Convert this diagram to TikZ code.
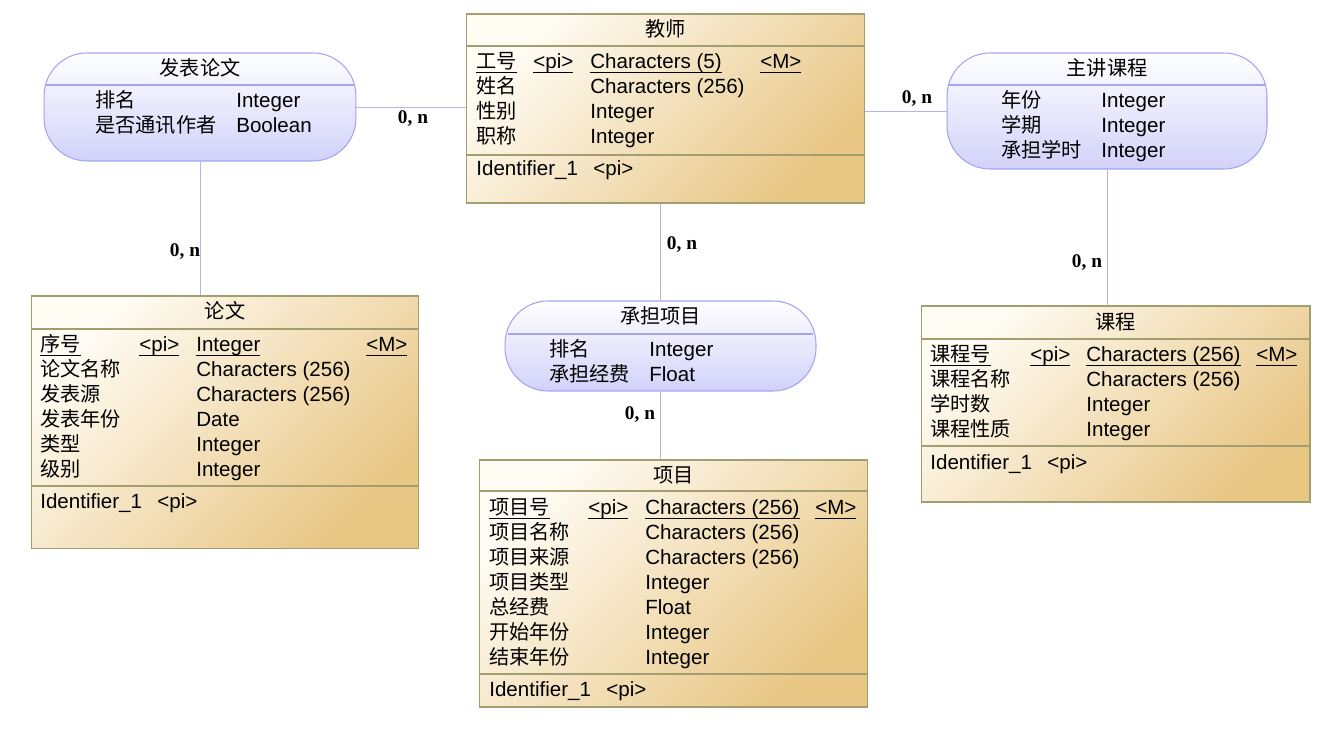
\documentclass[tikz,border=0pt]{standalone}
\usepackage{fontspec}
\setmainfont{Liberation Sans}
\newfontfamily\cjk{Noto Sans CJK SC}
\newfontfamily\lbl{Liberation Serif}
\usetikzlibrary{positioning,calc}
\definecolor{entlight}{HTML}{FFFCF4}
\definecolor{entdark}{HTML}{E8C684}
\definecolor{entline}{HTML}{A39E70}
\definecolor{relfill}{HTML}{D2D2FA}
\definecolor{relline}{HTML}{A4A4F0}
\definecolor{linkcol}{HTML}{B4B4F2}
\newcommand{\keyul}[1]{\setbox0=\hbox{#1}\rlap{\rule[-2.5pt]{\wd0}{0.8pt}}\box0}

\begin{document}
\begin{tikzpicture}[
  x=0.02cm, y=-0.02cm,
  ent/.style={draw=entline, line width=0.6pt, top color=entlight, bottom color=entdark, shading angle=45, inner sep=0},
  rel/.style={draw=relline, line width=0.6pt, rounded corners=0.86cm, top color=white, bottom color=relfill, inner sep=0},
  entsep/.style={draw=entline, line width=0.6pt},
  relsep/.style={draw=relline, line width=0.6pt},
  link/.style={draw=linkcol, line width=0.5pt},
  card/.style={font=\lbl\bfseries\fontsize{11}{13}\selectfont, inner sep=0},
  en/.style={anchor=base west, inner sep=0, font=\fontsize{11.7}{14}\selectfont},
  cn/.style={anchor=base west, inner sep=0, font=\cjk\fontsize{11.5}{14}\selectfont},
  ttl/.style={anchor=base, inner sep=0, font=\cjk\fontsize{11.5}{14}\selectfont}
]
\useasboundingbox[fill=white] (0,0) rectangle (1336,742);

% Boxes
\node[ent, minimum width=7.98cm, minimum height=3.78cm] (js) at (665.5,108.5) {};
\node[ent, minimum width=7.76cm, minimum height=5.06cm] (lw) at (225,422.5) {};
\node[ent, minimum width=7.78cm, minimum height=4.94cm] (xm) at (673.5,583.5) {};
\node[ent, minimum width=7.78cm, minimum height=3.92cm] (kc) at (1115.5,404) {};
\node[rel, minimum width=6.24cm, minimum height=2.16cm] (fblw) at (200,107) {};
\node[rel, minimum width=6.40cm, minimum height=2.32cm] (zjkc) at (1107,111) {};
\node[rel, minimum width=6.22cm, minimum height=1.80cm] (cdxm) at (660.5,346) {};

% Compartment lines
\draw[entsep] (js.west |- 0,46) -- (js.east |- 0,46);
\draw[entsep] (js.west |- 0,155) -- (js.east |- 0,155);
\draw[entsep] (lw.west |- 0,329) -- (lw.east |- 0,329);
\draw[entsep] (lw.west |- 0,486) -- (lw.east |- 0,486);
\draw[entsep] (xm.west |- 0,491) -- (xm.east |- 0,491);
\draw[entsep] (xm.west |- 0,674) -- (xm.east |- 0,674);
\draw[entsep] (kc.west |- 0,339) -- (kc.east |- 0,339);
\draw[entsep] (kc.west |- 0,446) -- (kc.east |- 0,446);
\draw[relsep] ([xshift=1.5pt]fblw.west |- 0,85) -- ([xshift=-1.5pt]fblw.east |- 0,85);
\draw[relsep] ([xshift=1.5pt]zjkc.west |- 0,85) -- ([xshift=-1.5pt]zjkc.east |- 0,85);
\draw[relsep] ([xshift=2pt]cdxm.west |- 0,334) -- ([xshift=-2pt]cdxm.east |- 0,334);

% Links
\draw[link] (fblw.east) -- (fblw.east -| js.west);
\draw[link] (fblw.south) -- (fblw.south |- lw.north);
\draw[link] (zjkc.west) -- (zjkc.west -| js.east);
\draw[link] (zjkc.south) -- (zjkc.south |- kc.north);
\draw[link] (cdxm.north) -- (cdxm.north |- js.south);
\draw[link] (cdxm.south) -- (cdxm.south |- xm.north);

\node[card] (c1) at (413,119) {0, n};
\node[card] (c2) at (185,252) {0, n};
\node[card] (c3) at (917,99) {0, n};
\node[card] (c4) at (1087,263) {0, n};
\node[card] (c5) at (682,245) {0, n};
\node[card] (c6) at (640,415) {0, n};

% 教师
\node[ttl] (js-ttl) at (665.5,37) {教师};
\node[cn] (js-n1) at (476,69) {\keyul{工号}};
\node[en] (js-k1) at (533,69) {\keyul{<pi>}};
\node[en] (js-t1) at (590,69) {\keyul{Characters (5)}};
\node[en] (js-m1) at (760,69) {\keyul{<M>}};
\node[cn] (js-n2) at (476,94) {姓名};
\node[en] (js-t2) at (590,94) {Characters (256)};
\node[cn] (js-n3) at (476,119) {性别};
\node[en] (js-t3) at (590,119) {Integer};
\node[cn] (js-n4) at (476,144) {职称};
\node[en] (js-t4) at (590,144) {Integer};
\node[en] (js-id) at (476,176) {Identifier\_1};
\node[en] (js-ik) at (593,176) {<pi>};

% 论文
\node[ttl] (lw-ttl) at (225,319) {论文};
\node[cn] (lw-n1) at (40,352) {\keyul{序号}};
\node[en] (lw-k1) at (139,352) {\keyul{<pi>}};
\node[en] (lw-t1) at (196,352) {\keyul{Integer}};
\node[en] (lw-m1) at (366,352) {\keyul{<M>}};
\node[cn] (lw-n2) at (40,377) {论文名称};
\node[en] (lw-t2) at (196,377) {Characters (256)};
\node[cn] (lw-n3) at (40,402) {发表源};
\node[en] (lw-t3) at (196,402) {Characters (256)};
\node[cn] (lw-n4) at (40,427) {发表年份};
\node[en] (lw-t4) at (196,427) {Date};
\node[cn] (lw-n5) at (40,452) {类型};
\node[en] (lw-t5) at (196,452) {Integer};
\node[cn] (lw-n6) at (40,477) {级别};
\node[en] (lw-t6) at (196,477) {Integer};
\node[en] (lw-id) at (40,509) {Identifier\_1};
\node[en] (lw-ik) at (157,509) {<pi>};

% 项目
\node[ttl] (xm-ttl) at (673.5,483) {项目};
\node[cn] (xm-n1) at (489,515) {\keyul{项目号}};
\node[en] (xm-k1) at (588,515) {\keyul{<pi>}};
\node[en] (xm-t1) at (645,515) {\keyul{Characters (256)}};
\node[en] (xm-m1) at (815,515) {\keyul{<M>}};
\node[cn] (xm-n2) at (489,540) {项目名称};
\node[en] (xm-t2) at (645,540) {Characters (256)};
\node[cn] (xm-n3) at (489,565) {项目来源};
\node[en] (xm-t3) at (645,565) {Characters (256)};
\node[cn] (xm-n4) at (489,590) {项目类型};
\node[en] (xm-t4) at (645,590) {Integer};
\node[cn] (xm-n5) at (489,615) {总经费};
\node[en] (xm-t5) at (645,615) {Float};
\node[cn] (xm-n6) at (489,640) {开始年份};
\node[en] (xm-t6) at (645,640) {Integer};
\node[cn] (xm-n7) at (489,665) {结束年份};
\node[en] (xm-t7) at (645,665) {Integer};
\node[en] (xm-id) at (489,697) {Identifier\_1};
\node[en] (xm-ik) at (606,697) {<pi>};

% 课程
\node[ttl] (kc-ttl) at (1115.5,330) {课程};
\node[cn] (kc-n1) at (930,362) {\keyul{课程号}};
\node[en] (kc-k1) at (1030,362) {\keyul{<pi>}};
\node[en] (kc-t1) at (1086,362) {\keyul{Characters (256)}};
\node[en] (kc-m1) at (1256,362) {\keyul{<M>}};
\node[cn] (kc-n2) at (930,387) {课程名称};
\node[en] (kc-t2) at (1086,387) {Characters (256)};
\node[cn] (kc-n3) at (930,412) {学时数};
\node[en] (kc-t3) at (1086,412) {Integer};
\node[cn] (kc-n4) at (930,437) {课程性质};
\node[en] (kc-t4) at (1086,437) {Integer};
\node[en] (kc-id) at (930,470) {Identifier\_1};
\node[en] (kc-ik) at (1047,470) {<pi>};

% 发表论文
\node[ttl] (fblw-ttl) at (200,76) {发表论文};
\node[cn] (fblw-n1) at (95,108) {排名};
\node[en] (fblw-t1) at (236,108) {Integer};
\node[cn] (fblw-n2) at (95,133) {是否通讯作者};
\node[en] (fblw-t2) at (236,133) {Boolean};

% 主讲课程
\node[ttl] (zjkc-ttl) at (1107,76) {主讲课程};
\node[cn] (zjkc-n1) at (1001,108) {年份};
\node[en] (zjkc-t1) at (1101,108) {Integer};
\node[cn] (zjkc-n2) at (1001,133) {学期};
\node[en] (zjkc-t2) at (1101,133) {Integer};
\node[cn] (zjkc-n3) at (1001,158) {承担学时};
\node[en] (zjkc-t3) at (1101,158) {Integer};

% 承担项目
\node[ttl] (cdxm-ttl) at (660.5,324) {承担项目};
\node[cn] (cdxm-n1) at (549,357) {排名};
\node[en] (cdxm-t1) at (649,357) {Integer};
\node[cn] (cdxm-n2) at (549,382) {承担经费};
\node[en] (cdxm-t2) at (649,382) {Float};

\end{tikzpicture}
\end{document}
